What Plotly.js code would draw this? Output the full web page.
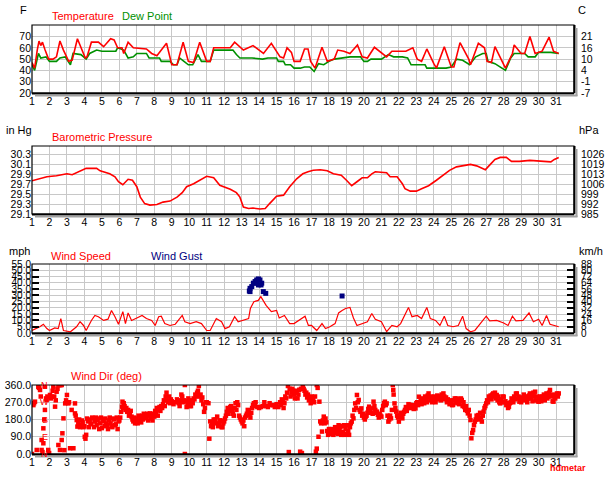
<!DOCTYPE html>
<html><head><meta charset="utf-8">
<script src="https://cdn.plot.ly/plotly-3.0.1.min.js"></script>
<style>html,body{margin:0;padding:0;background:#fff}#chart{width:614px;height:480px}</style>
</head><body><div id="chart"></div>
<script>
// ---- data (day of month, value) ----
const dayTicks = [1,2,3,4,5,6,7,8,9,10,11,12,13,14,15,16,17,18,19,20,21,22,23,24,25,26,27,28,29,30,31];

const temperatureF = [[1.0,47],[1.15,42],[1.3,58],[1.4,66],[1.5,62],[1.6,65],[1.75,58],[1.95,50],[2.2,50],[2.4,52],[2.6,66],[2.8,58],[3.1,48],[3.3,49],[3.6,68],[3.8,60],[4.05,51],[4.15,52],[4.4,65],[4.8,65],[5.1,61],[5.5,68],[5.7,67],[5.9,60],[6.15,60],[6.25,55],[6.5,65],[6.8,60],[7.55,59],[7.85,55],[8.15,53],[8.5,60],[8.7,64],[9.0,45],[9.3,45],[9.65,65],[9.95,48],[10.25,47],[10.6,65],[11.0,48],[11.2,48],[11.4,60],[12.35,60],[12.6,65],[13.1,58],[13.65,62],[14.25,55],[14.7,64],[15.2,52],[15.4,51],[15.6,60],[15.85,56],[16.0,48],[16.35,48],[16.6,59],[16.8,59],[16.95,48],[17.2,42],[17.6,60.5],[17.9,48],[18.3,50],[18.5,58],[18.85,57],[19.2,55],[19.63,62.5],[19.9,52],[20.2,51],[20.6,60.5],[21.3,52],[21.6,57],[22.4,57],[22.8,60],[23.05,50],[23.3,48],[23.6,59],[24.0,46],[24.15,42],[24.6,61],[25.0,43],[25.15,43],[25.5,64.6],[26.0,50],[26.1,45],[26.55,64],[26.9,60],[27.05,48],[27.3,47],[27.5,61],[28.1,42],[28.5,55],[28.6,62.5],[29.0,55],[29.2,55],[29.5,70],[29.8,55],[30.2,57],[30.6,69.4],[30.85,57],[31.15,55]];

const dewPointF = [[1.0,45],[1.15,40],[1.37,55],[1.5,51],[1.8,52],[2.0,48],[2.4,48],[2.6,51],[2.9,52],[3.2,45],[3.35,55],[3.8,54],[4.1,50],[4.3,55],[4.7,58],[5.0,57],[5.8,57],[5.9,60],[6.25,58],[6.5,51],[6.8,52],[7.0,55],[7.55,55],[7.7,51],[8.3,51],[8.4,48],[8.9,48],[9.1,45],[9.3,45],[9.45,51],[9.7,48],[9.95,45],[10.2,45],[10.5,54],[10.7,48],[11.2,48],[11.4,58],[12.5,58],[12.7,54],[12.9,51],[13.6,51],[14.2,50],[14.5,51],[15.0,51],[15.1,48],[15.4,48],[15.5,45],[15.8,45],[16.0,42],[16.35,42],[16.6,43],[16.9,43],[17.15,39],[17.4,46],[17.7,45],[18.0,48],[18.3,50],[18.9,51],[19.2,52],[19.8,52],[20.0,48],[20.2,48],[20.4,50],[21.0,50],[21.4,54],[21.7,52],[22.2,52],[22.5,51],[22.7,45],[23.5,45],[23.6,42],[24.7,42],[25.0,43],[25.3,50],[25.65,49],[26.05,45],[26.4,52],[26.8,55],[27.0,55],[27.1,48],[27.5,46],[27.9,42],[28.1,40],[28.4,51],[28.6,55],[29.2,55],[29.4,52],[29.8,52],[30.0,56],[30.7,56],[31.15,55]];

const pressureInHg = [[1.0,29.77],[1.45,29.81],[1.85,29.85],[2.4,29.87],[3.0,29.91],[3.3,29.89],[3.75,29.97],[4.1,30.02],[4.7,30.02],[4.9,29.97],[5.45,29.91],[5.75,29.85],[5.95,29.75],[6.2,29.69],[6.5,29.80],[6.75,29.78],[7.0,29.65],[7.2,29.44],[7.45,29.31],[7.75,29.28],[8.15,29.29],[8.5,29.34],[8.9,29.36],[9.3,29.44],[9.6,29.53],[9.85,29.65],[10.25,29.71],[10.6,29.78],[11.0,29.86],[11.4,29.83],[11.75,29.68],[12.35,29.60],[12.7,29.53],[12.9,29.44],[13.1,29.24],[13.4,29.21],[13.65,29.22],[14.05,29.20],[14.35,29.21],[14.6,29.31],[15.0,29.46],[15.4,29.48],[15.75,29.65],[16.15,29.81],[16.5,29.91],[16.8,29.95],[17.1,29.98],[17.5,29.99],[17.9,29.97],[18.25,29.91],[18.7,29.88],[19.0,29.78],[19.3,29.67],[19.6,29.75],[19.9,29.83],[20.2,29.83],[20.45,29.91],[20.65,29.95],[21.3,29.93],[21.5,29.85],[21.9,29.85],[22.2,29.71],[22.35,29.61],[22.65,29.56],[23.0,29.56],[23.3,29.61],[23.7,29.67],[24.15,29.78],[24.55,29.88],[24.9,29.98],[25.3,30.05],[25.7,30.08],[26.1,30.10],[26.45,30.07],[26.95,29.99],[27.1,30.05],[27.5,30.20],[27.8,30.24],[28.15,30.24],[28.45,30.16],[28.9,30.16],[29.5,30.18],[30.0,30.17],[30.5,30.15],[30.7,30.15],[30.9,30.20],[31.15,30.24]];

const windSpeedMph = [[1.0,2],[1.27,3.5],[1.45,5],[1.65,7],[1.85,3.5],[2.0,2],[2.3,4],[2.5,3.5],[2.65,11.5],[2.8,2],[3.2,1],[3.55,5],[3.75,9],[3.95,6],[4.1,2],[4.4,10],[4.6,14],[4.8,13],[5.1,10],[5.35,11],[5.55,18],[5.75,13],[5.95,7],[6.2,17],[6.35,7.5],[6.5,16],[6.7,10],[7.0,12],[7.3,14],[7.55,11.5],[7.85,10],[8.05,6],[8.25,13],[8.4,13.4],[8.6,7.5],[8.9,6],[9.2,7],[9.6,14],[9.75,9],[10.05,7.5],[10.4,9],[10.7,7.5],[11.0,2],[11.2,2],[11.55,11.5],[11.85,9],[12.05,3.5],[12.3,5],[12.6,13],[12.8,9],[13.1,10],[13.4,11.5],[13.5,19.5],[13.7,25],[13.95,26],[14.1,29],[14.4,22],[14.7,17],[15.0,18],[15.15,12],[15.45,14],[15.75,7.5],[16.0,7.5],[16.4,11.5],[16.63,13.4],[16.82,6],[17.0,6],[17.3,2],[17.6,7.5],[17.8,3.5],[18.05,5],[18.35,7.5],[18.55,16],[18.75,18],[18.95,19.5],[19.2,20.4],[19.4,12],[19.6,6],[19.9,7.5],[20.2,9],[20.45,15.5],[20.65,11],[21.0,9],[21.3,1],[21.6,6],[21.9,5],[22.1,7.5],[22.35,14],[22.55,20.4],[22.75,13],[23.05,14],[23.3,11.5],[23.6,20.4],[23.8,11.5],[24.1,10],[24.35,6],[24.6,13.4],[24.8,6],[25.1,5],[25.4,6],[25.65,13.4],[25.85,3.5],[26.1,1],[26.35,2],[26.65,7.5],[27.0,13.4],[27.2,9.6],[27.6,10],[28.0,8],[28.25,6],[28.5,13.4],[28.7,9.6],[29.1,10],[29.45,16],[29.7,9],[30.0,11],[30.2,6],[30.45,14],[30.65,7],[30.95,5.6],[31.15,5]];

const windGustMph = [[13.44,33.5],[13.48,35.6],[13.48,33],[13.58,37],[13.67,39.7],[13.77,41],[13.86,42.3],[13.86,39.7],[13.96,43.1],[13.96,38.3],[14.05,42.3],[14.11,38.3],[14.15,39.7],[14.24,33],[14.38,31.6],[18.75,29.5]];

const windDirDeg = [[1.0,0],[1.08,255],[1.12,265],[1.17,273],[1.27,21],[1.36,351],[1.4,345],[1.46,334],[1.5,300],[1.55,21],[1.55,73],[1.6,10],[1.65,56],[1.65,134],[1.7,180],[1.74,230],[1.74,351],[1.8,290],[1.84,282],[1.88,300],[1.93,21],[1.98,5],[2.03,308],[2.08,290],[2.13,299],[2.18,330],[2.22,351],[2.27,300],[2.32,247],[2.36,280],[2.41,325],[2.46,340],[2.51,360],[2.51,47],[2.56,360],[2.6,360],[2.6,21],[2.65,360],[2.7,360],[2.7,73],[2.74,108],[2.8,186],[2.85,20],[2.9,264],[2.95,280],[3.0,308],[3.08,264],[3.12,270],[3.18,30],[3.27,230],[3.37,30],[3.46,264],[3.46,212],[3.5,200],[3.56,177],[3.6,143],
[3.65,160],[3.7,180],[3.75,140],[3.8,150],[3.85,175],[3.9,165],[3.95,140],[4.0,145],[4.02,90],[4.06,80],[4.1,100],[4.15,185],[4.2,170],[4.25,140],[4.3,180],[4.35,160],[4.4,155],[4.45,190],[4.5,185],[4.55,140],[4.6,170],[4.65,190],[4.7,150],[4.75,175],[4.8,185],[4.85,130],[4.9,160],[4.95,190],[5.0,135],[5.05,180],[5.1,170],[5.15,145],[5.2,185],[5.25,160],[5.3,150],[5.35,130],[5.4,175],[5.45,190],[5.5,160],[5.55,145],[5.6,140],[5.65,185],[5.7,180],[5.75,150],[5.8,155],[5.85,190],[5.9,130],[5.95,170],[6.0,175],[6.05,190],
[6.1,220],[6.15,247],[6.18,273],[6.22,240],[6.25,265],[6.3,250],[6.35,230],[6.4,240],[6.45,220],[6.5,230],[6.55,200],[6.6,215],[6.65,225],[6.7,195],[6.75,180],[6.8,170],[6.85,190],[6.9,160],[6.95,185],[7.0,175],[7.05,160],[7.1,200],[7.15,170],[7.2,185],[7.25,165],[7.3,200],[7.35,180],[7.4,210],[7.45,190],[7.5,200],[7.55,186],[7.6,210],[7.65,175],[7.7,200],[7.75,212],[7.8,185],[7.85,200],[7.9,175],[7.95,210],[8.0,195],[8.05,225],[8.1,212],[8.15,240],[8.2,200],[8.25,230],[8.3,245],[8.35,225],[8.4,250],[8.45,240],[8.5,260],[8.55,280],[8.6,250],[8.65,300],[8.7,320],[8.75,280],[8.8,270],[8.85,300],[8.9,265],[8.95,285],[9.0,275],[9.1,260],[9.2,270],[9.3,285],[9.4,265],[9.45,250],[9.5,280],[9.55,310],[9.6,300],[9.65,270],[9.7,280],[9.75,360],[9.75,0],[9.8,275],[9.85,245],[9.9,260],[9.95,290],[10.0,270],[10.05,250],[10.1,250],[10.15,280],[10.2,265],[10.25,290],[10.3,285],[10.35,310],[10.4,300],[10.45,320],[10.5,330],[10.55,355],[10.6,300],[10.65,310],[10.7,280],[10.75,295],[10.8,260],[10.85,220],[10.9,240],[10.95,270],[11.0,270],[11.1,265],[11.15,80],
[11.2,170],[11.25,145],[11.3,160],[11.35,140],[11.4,180],[11.45,165],[11.5,180],[11.55,160],[11.6,195],[11.65,145],[11.7,155],[11.75,175],[11.8,175],[11.85,140],[11.9,140],[11.95,160],[12.0,170],[12.05,185],[12.1,200],[12.15,220],[12.2,240],[12.25,210],[12.3,225],[12.35,245],[12.4,250],[12.45,230],[12.5,210],[12.55,200],[12.6,240],[12.65,265],[12.7,230],[12.75,270],[12.8,255],[12.85,200],[12.9,190],[12.95,180],[13.0,170],[13.05,160],[13.1,175],[13.15,145],[13.2,190],[13.25,200],[13.3,210],[13.35,230],[13.4,220],[13.45,205],[13.5,190],[13.55,215],[13.6,240],[13.65,255],[13.7,265],[13.75,250],[13.8,270],[13.9,245],[14.0,240],[14.1,245],[14.2,250],[14.3,270],[14.4,250],[14.5,245],[14.6,265],[14.7,255],[14.8,255],[14.9,245],[15.0,260],[15.1,245],[15.2,270],[15.25,255],[15.3,285],[15.35,270],[15.4,240],[15.45,265],[15.5,300],[15.55,290],[15.6,320],[15.65,355],[15.7,10],[15.75,340],[15.8,300],[15.85,320],[15.9,340],[15.95,330],[16.0,310],[16.05,290],[16.1,330],[16.15,320],[16.2,290],[16.25,310],[16.3,335],[16.35,12],[16.4,340],[16.45,5],[16.5,355],[16.55,340],[16.6,330],[16.65,310],[16.7,320],[16.75,295],[16.8,310],[16.85,280],[16.9,290],[16.95,265],[17.0,300],[17.05,280],[17.1,290],[17.15,270],[17.2,300],[17.25,12],[17.3,28],[17.3,360],[17.35,345],[17.4,90],[17.45,273],
[17.5,170],[17.55,160],[17.6,117],[17.65,175],[17.7,195],[17.75,160],[17.8,185],[17.85,165],[17.9,120],[17.95,100],[18.0,130],[18.05,115],[18.1,105],[18.15,130],[18.2,120],[18.25,100],[18.3,125],[18.35,140],[18.4,110],[18.45,130],[18.5,105],[18.55,150],[18.6,120],[18.65,140],[18.7,100],[18.75,145],[18.8,115],[18.85,150],[18.9,100],[18.95,130],[19.0,105],[19.05,150],[19.1,120],[19.15,100],[19.2,140],[19.25,160],[19.3,169],[19.35,200],[19.4,186],[19.45,230],[19.5,264],[19.55,240],[19.6,308],[19.65,270],[19.7,282],[19.75,230],[19.8,220],[19.85,238],[19.9,200],[19.95,210],[20.0,190],[20.05,180],[20.1,195],[20.15,200],[20.2,215],[20.25,235],[20.3,247],[20.35,225],[20.4,215],[20.45,238],[20.5,210],[20.55,273],[20.6,250],[20.65,230],[20.7,215],[20.75,221],[20.8,205],[20.85,190],[20.9,210],[20.95,200],[21.0,195],[21.05,230],[21.1,250],[21.15,265],[21.2,273],[21.25,255],[21.3,264],[21.35,200],[21.4,169],[21.45,180],[21.5,200],[21.55,186],[21.6,230],[21.65,360],[21.68,334],[21.7,310],[21.75,264],[21.8,240],[21.85,221],[21.9,200],[21.95,190],[22.0,169],[22.05,200],[22.1,215],[22.15,190],[22.2,186],[22.25,210],[22.3,220],[22.35,230],[22.4,245],[22.45,225],[22.5,240],[22.55,260],[22.6,245],[22.65,256],[22.7,240],[22.75,250],[22.8,255],[22.85,235],[22.9,250],[22.95,238],[23.0,265],[23.05,270],[23.1,255],[23.15,299],[23.2,270],[23.25,280],[23.3,260],[23.35,290],[23.4,273],[23.45,265],[23.5,300],[23.55,285],[23.6,270],[23.65,305],[23.7,316],[23.75,295],[23.8,280],[23.85,300],[23.9,270],[23.95,290],[24.0,282],[24.05,300],[24.1,270],[24.15,290],[24.2,305],[24.25,285],[24.3,299],[24.35,300],[24.4,280],[24.45,310],[24.5,295],[24.55,316],[24.6,300],[24.65,285],[24.7,295],[24.75,270],[24.8,285],[24.85,273],[24.9,260],[24.95,280],[25.0,265],[25.05,255],[25.1,256],[25.15,280],[25.2,290],[25.25,270],[25.3,290],[25.35,265],[25.4,285],[25.45,260],[25.5,275],[25.55,290],[25.6,282],[25.65,250],[25.7,270],[25.75,245],[25.8,230],[25.85,250],[25.9,225],[25.95,212],[26.0,230],[26.05,200],[26.1,177],[26.15,82],[26.2,110],[26.25,125],[26.3,150],[26.35,169],[26.4,180],[26.45,200],[26.5,190],[26.55,203],[26.6,180],[26.65,215],[26.7,190],[26.75,169],[26.8,200],[26.85,221],[26.9,240],[26.95,250],[27.0,264],[27.05,280],[27.1,270],[27.15,300],[27.2,290],[27.25,305],[27.3,285],[27.35,310],[27.4,316],[27.45,300],[27.5,320],[27.55,290],[27.6,308],[27.65,280],[27.7,300],[27.75,270],[27.8,264],[27.85,285],[27.9,270],[27.95,300],[28.0,299],[28.05,270],[28.1,275],[28.15,255],[28.2,265],[28.25,240],[28.3,247],[28.35,265],[28.4,270],[28.45,290],[28.5,282],[28.55,270],[28.6,300],[28.65,285],[28.7,315],[28.75,316],[28.8,290],[28.85,300],[28.9,273],[28.95,285],[29.0,270],[29.05,295],[29.1,280],[29.15,310],[29.2,299],[29.25,285],[29.3,300],[29.35,270],[29.4,290],[29.45,305],[29.5,316],[29.55,290],[29.6,300],[29.65,275],[29.7,320],[29.75,300],[29.8,325],[29.85,280],[29.9,300],[29.95,275],[30.0,273],[30.05,290],[30.1,300],[30.15,275],[30.2,299],[30.25,285],[30.3,310],[30.35,280],[30.4,300],[30.45,316],[30.5,290],[30.55,300],[30.6,320],[30.65,334],[30.7,300],[30.75,310],[30.8,275],[30.85,273],[30.9,300],[30.95,290],[31.0,310],[31.05,316],[31.1,300],[31.15,316]];

const tempTicks = [20,30,40,50,60,70];
const tempTicksC = ['-7','-1','4','10','16','21'];
const presTicks = [29.1,29.3,29.5,29.7,29.9,30.1,30.3];
const presTicksHpa = ['985','992','999','1006','1013','1019','1026'];
const windTicks = [0,5,10,15,20,25,30,35,40,45,50,55];
const windTicksKmh = ['0','8','16','24','32','40','48','56','64','72','80','88'];
const dirTicks = [0,90,180,270,360];
const compass = ['N','E','S','W','N'];

// ---- geometry helpers (pixels -> paper) ----
const L=32, R=574, T=25, B=454, W=614, H=480;
const px = p => (p - L) / (R - L);
const py = p => (B - p) / (B - T);
const panels = [[25,93],[146,214],[264,333],[385,454]];
const dom = panels.map(([t,b]) => [py(b), py(t)]);

const xs = a => a.map(d => d[0]);
const ys = a => a.map(d => d[1]);
const FONT = 'Liberation Sans, Arial, sans-serif';

const traces = [
  {x: xs(dewPointF), y: ys(dewPointF), xaxis:'x', yaxis:'y', mode:'lines', line:{color:'#009000', width:1.6}},
  {x: xs(temperatureF), y: ys(temperatureF), xaxis:'x', yaxis:'y', mode:'lines', line:{color:'#ff0000', width:1.6}},
  {x: xs(pressureInHg), y: ys(pressureInHg), xaxis:'x2', yaxis:'y2', mode:'lines', line:{color:'#ff0000', width:1.6}},
  {x: xs(windSpeedMph), y: ys(windSpeedMph), xaxis:'x3', yaxis:'y3', mode:'lines', line:{color:'#ff0000', width:1.2}},
  {x: xs(windGustMph), y: ys(windGustMph), xaxis:'x3', yaxis:'y3', mode:'markers', marker:{color:'#000080', symbol:'square', size:5}},
  {x: xs(windDirDeg), y: ys(windDirDeg), xaxis:'x4', yaxis:'y4', mode:'markers', marker:{color:'#ff0000', symbol:'square', size:4.5}},
  {x:[null], y:[null], xaxis:'x', yaxis:'y5', mode:'lines'},
  {x:[null], y:[null], xaxis:'x2', yaxis:'y6', mode:'lines'},
  {x:[null], y:[null], xaxis:'x3', yaxis:'y7', mode:'lines'}
];
traces.forEach(t => { t.hoverinfo = 'skip'; t.showlegend = false; });

const xBase = (anchor) => ({
  anchor, domain:[0,1], range:[1, 1 + (R-L)/17.47], tickvals: dayTicks,
  showgrid:true, gridcolor:'#c8c8c8', gridwidth:1, zeroline:false, showline:false,
  ticks:'', tickfont:{family:FONT, size:10.5, color:'#000'}, fixedrange:true
});
const yBase = (d, range, vals) => ({
  domain:d, range, tickvals: vals, anchor:'x',
  showgrid:true, gridcolor:'#c8c8c8', gridwidth:1, zeroline:false, showline:false,
  ticks:'', tickfont:{family:FONT, size:10.5, color:'#000'}, fixedrange:true
});

const layout = {
  width:W, height:H, margin:{l:L, r:W-R, t:T, b:H-B, pad:0},
  paper_bgcolor:'#fff', plot_bgcolor:'#fff', showlegend:false,
  font:{family:FONT, size:10.5, color:'#000'},
  xaxis: xBase('y'), xaxis2: xBase('y2'), xaxis3: xBase('y3'), xaxis4: xBase('y4'),
  yaxis: yBase(dom[0], [20, 80.2], tempTicks),
  yaxis2: Object.assign(yBase(dom[1], [29.1, 30.47], presTicks), {anchor:'x2', tickformat:'.1f'}),
  yaxis3: Object.assign(yBase(dom[2], [0, 55], windTicks), {anchor:'x3', tickformat:'.1f', ticks:'inside', ticklen:7, tickwidth:2, tickcolor:'#000', tickfont:{family:FONT, size:10, color:'#000'}}),
  yaxis4: Object.assign(yBase(dom[3], [0, 360], dirTicks), {anchor:'x4', tickformat:'.1f'}),
  yaxis5: {overlaying:'y', side:'right', anchor:'x', range:[20,80.2], tickvals:tempTicks, ticktext:tempTicksC, showgrid:false, zeroline:false, ticks:'', tickfont:{family:FONT,size:10.5,color:'#000'}, ticklabelstandoff:6, fixedrange:true},
  yaxis6: {overlaying:'y2', side:'right', anchor:'x2', range:[29.1,30.47], tickvals:presTicks, ticktext:presTicksHpa, showgrid:false, zeroline:false, ticks:'', tickfont:{family:FONT,size:10.5,color:'#000'}, ticklabelstandoff:6, fixedrange:true},
  yaxis7: {overlaying:'y3', side:'right', anchor:'x3', range:[0,55], tickvals:windTicks, ticktext:windTicksKmh, showgrid:false, zeroline:false, ticks:'inside', ticklen:7, tickwidth:2, tickcolor:'#000', tickfont:{family:FONT,size:10,color:'#000'}, ticklabelstandoff:6, fixedrange:true},
  shapes: [], annotations: []
};

// borders with 3D shadow
dom.forEach(([b,t]) => {
  const s = layout.shapes;
  s.push({type:'rect', xref:'paper', yref:'paper', x0:0, x1:1, y0:b, y1:t, line:{color:'#000', width:1.2}});
  s.push({type:'line', xref:'paper', yref:'paper', x0:1+0.5/(R-L), x1:1+0.5/(R-L), y0:b, y1:t, line:{color:'#000', width:2}});
  s.push({type:'line', xref:'paper', yref:'paper', x0:0, x1:1, y0:b-0.5/(B-T), y1:b-0.5/(B-T), line:{color:'#000', width:2}});
  s.push({type:'line', xref:'paper', yref:'paper', x0:1+2.5/(R-L), x1:1+2.5/(R-L), y0:b-3/(B-T), y1:t-3/(B-T), line:{color:'#a0a0a0', width:2}});
  s.push({type:'line', xref:'paper', yref:'paper', x0:3/(R-L), x1:1+3.5/(R-L), y0:b-2.5/(B-T), y1:b-2.5/(B-T), line:{color:'#a0a0a0', width:2}});
});

const ann = (text, x, y, color, xanchor, size, extra) => Object.assign({
  text, xref:'paper', yref:'paper', x:px(x), y:py(y), xanchor:xanchor||'left', yanchor:'middle',
  showarrow:false, font:{family:FONT, size:size||11, color:color||'#000'}
}, extra||{});
layout.annotations.push(
  ann('F', 23, 10, '#000', 'center'),
  ann('C', 582, 10, '#000', 'center'),
  ann('Temperature', 50, 16, '#ff0000'),
  ann('Dew Point', 120, 16, '#009000'),
  ann('in Hg', 4, 130),
  ann('hPa', 577, 130),
  ann('Barometric Pressure', 50, 137, '#ff0000'),
  ann('mph', 7, 251),
  ann('km/h', 577, 251),
  ann('Wind Speed', 49, 256, '#ff0000'),
  ann('Wind Gust', 149, 256, '#000080'),
  ann('Wind Dir (deg)', 69, 376, '#ff0000'),
  ann('<b>hdmetar</b>', 548, 468, '#ff0000', 'left', 9)
);
dirTicks.forEach((v,i) => {
  layout.annotations.push({text: compass[i], xref:'x4', yref:'y4', x:1.72, y:v, xanchor:'center', yanchor:'middle',
    showarrow:false, font:{family:FONT, size:9, color:'#ff0000'}});
});

Plotly.newPlot('chart', traces, layout, {staticPlot:true, displayModeBar:false});
</script></body></html>
